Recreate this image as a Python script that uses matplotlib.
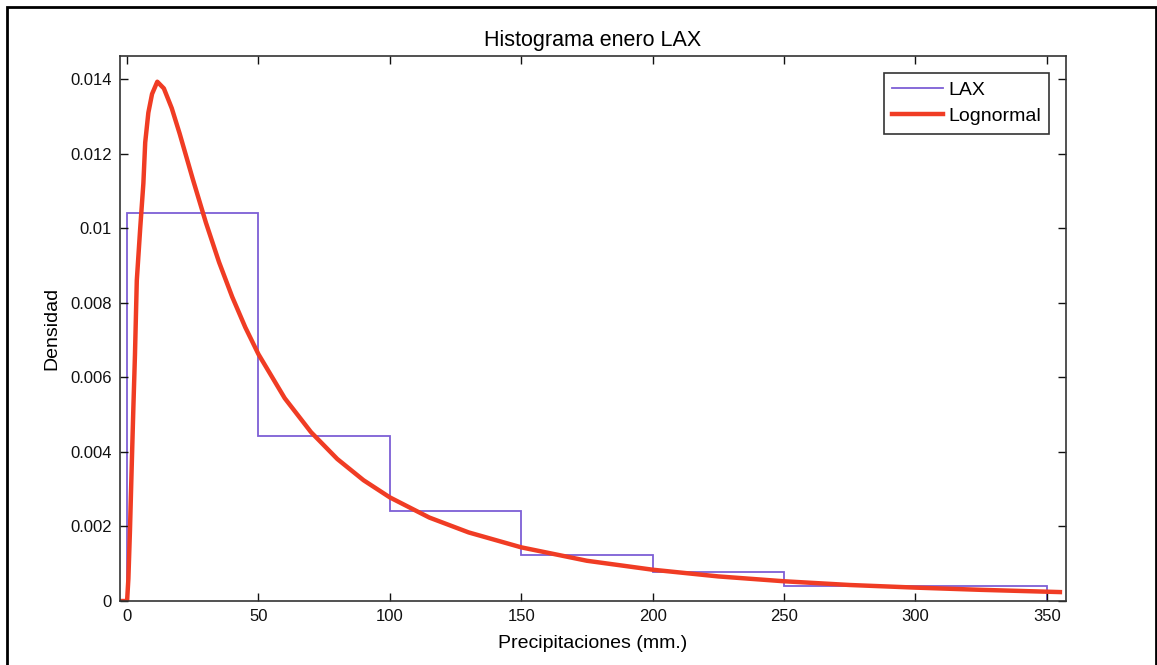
import numpy as np
import matplotlib
matplotlib.use("Agg")
import matplotlib.pyplot as plt
from matplotlib.patches import Rectangle
from matplotlib.ticker import FuncFormatter

# histogram (normalised densities), bin edges every 50 mm
bin_edges = [0, 50, 100, 150, 200, 250, 300, 350]
densities = [0.01040, 0.00443, 0.00241, 0.00123, 0.00079, 0.00041, 0.00041]

# lognormal fit
curve_x = [-2.7, 0.0, 0.5, 1.1, 1.8, 2.4, 3.0, 3.7, 5.0, 6.2, 6.9, 8.1, 9.5, 11.5,
           14, 17, 20, 25, 30, 35, 40, 45, 50, 60, 70, 80, 90, 100, 115, 130,
           150, 175, 200, 225, 250, 275, 300, 325, 355]
curve_y = [0.0, 0.0, 0.0006, 0.0019, 0.0037, 0.0052, 0.0066, 0.0086, 0.0100, 0.0112,
           0.0123, 0.0131, 0.0136, 0.01393,
           0.01375, 0.01322, 0.01254, 0.01132, 0.01015, 0.00909, 0.00816, 0.00734,
           0.00662, 0.00544, 0.00453, 0.00381, 0.00324, 0.00278, 0.00224, 0.00184,
           0.00144, 0.00108, 0.00084, 0.00066, 0.00053, 0.00043, 0.00036, 0.00030,
           0.00024]

purple = "#7d5fd6"
red = "#f03c24"
FONT = "Liberation Sans"

fig = plt.figure(figsize=(11.57, 6.65), dpi=100)
ax = fig.add_axes([0.1037, 0.0962, 0.8176, 0.8196])

ax.stairs(densities, bin_edges, fill=False, color=purple, lw=1.3, baseline=0, label="LAX")
ax.plot(curve_x, curve_y, color=red, lw=3.2, label="Lognormal")

ax.set_xlim(-2.7, 357.3)
ax.set_ylim(0, 0.01462)
ax.set_xticks(np.arange(0, 351, 50))
ax.set_yticks(np.arange(0, 0.0141, 0.002))
ax.yaxis.set_major_formatter(FuncFormatter(lambda v, p: "%g" % round(v, 4)))
ax.tick_params(direction="in", length=6, width=1, top=True, right=True,
               labelsize=12, colors="#111111", pad=6)
for lab in ax.get_xticklabels() + ax.get_yticklabels():
    lab.set_family(FONT)
for s in ax.spines.values():
    s.set_color("#333333")
    s.set_linewidth(1.2)

ax.set_title("Histograma enero LAX", fontsize=15.5, family=FONT, pad=7)
ax.set_xlabel("Precipitaciones (mm.)", fontsize=14, family=FONT, labelpad=8)
ax.set_ylabel("Densidad", fontsize=14, family=FONT, labelpad=7)

leg = ax.legend(loc="upper right", fancybox=False,
                framealpha=1, edgecolor="#333333", handlelength=2.6, handletextpad=0.25,
                borderaxespad=0.85, labelspacing=0.45, borderpad=0.45,
                prop={"family": FONT, "size": 14})
leg.get_frame().set_linewidth(1.2)

# outer frame around the figure
fig.patches.append(Rectangle((0.006, -0.02), 0.993, 1.0095, transform=fig.transFigure,
                             fill=False, edgecolor="black", lw=2))

fig.savefig("out.png", dpi=100)
